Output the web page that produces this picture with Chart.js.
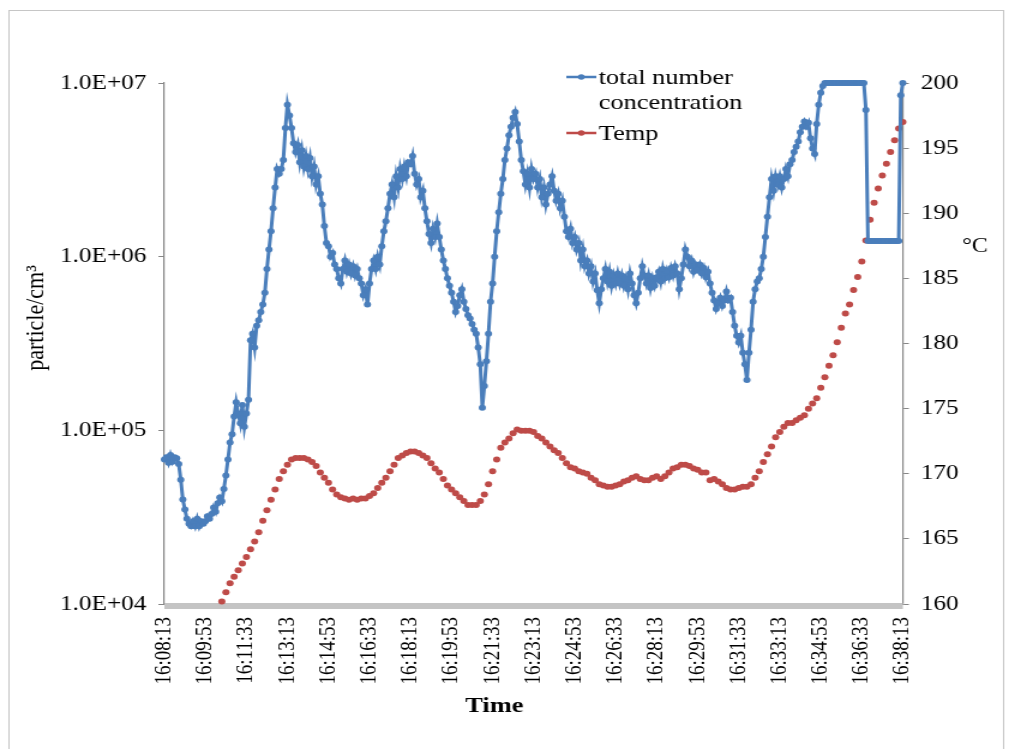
<!DOCTYPE html>
<html>
<head>
<meta charset="utf-8">
<script src="https://cdn.jsdelivr.net/npm/chart.js@4.4.1/dist/chart.umd.min.js"></script>
<style>
  html, body { margin: 0; padding: 0; background: #fff; }
  #chart { display: block; }
</style>
</head>
<body>
<!-- drawn on a narrower bitmap and widened by css, so text and dots come out wide -->
<canvas id="chart" width="841" height="749" style="width:1009px;height:749px"></canvas>
<script>
// x axis runs in seconds after 16:08:13
const TIME_LABELS = [
  '16:08:13', '16:09:53', '16:11:33', '16:13:13', '16:14:53', '16:16:33', '16:18:13',
  '16:19:53', '16:21:33', '16:23:13', '16:24:53', '16:26:33', '16:28:13', '16:29:53',
  '16:31:33', '16:33:13', '16:34:53', '16:36:33', '16:38:13'
];
const TIME_MAX = 1800;

// particle counter, one reading every 5 s from 16:08:13
const CONC_STEP = 5;
const concentration = [
  6.8e4, 7.0e4, 6.5e4, 7.2e4, 6.6e4, 7.0e4, 6.9e4, 6.4e4, 5.2e4, 4.0e4, 3.5e4, 3.1e4, 2.9e4, 2.8e4, 3.0e4, 2.8e4, 3.1e4, 2.8e4, 3.0e4, 2.9e4,
  3.0e4, 3.2e4, 3.1e4, 3.3e4, 3.6e4, 3.4e4, 3.8e4, 4.1e4, 3.9e4, 4.6e4, 5.5e4, 6.8e4, 8.5e4, 9.5e4, 1.2e5, 1.45e5, 1.25e5, 1.1e5, 1.4e5, 1.05e5,
  1.25e5, 1.5e5, 3.3e5, 3.6e5, 3.0e5, 4.0e5, 4.3e5, 4.8e5, 5.3e5, 6.2e5, 8.5e5, 1.1e6, 1.4e6, 1.9e6, 2.5e6, 3.2e6, 3.0e6, 3.2e6, 3.6e6, 5.5e6,
  7.5e6, 6.5e6, 5.5e6, 4.5e6, 4.0e6, 4.4e6, 3.5e6, 4.1e6, 3.3e6, 3.8e6, 3.2e6, 3.7e6, 2.9e6, 3.3e6, 2.6e6, 2.9e6, 2.3e6, 2.0e6, 1.5e6, 1.2e6,
  1.15e6, 1.0e6, 1.05e6, 9.0e5, 8.5e5, 7.5e5, 7.0e5, 8.5e5, 9.5e5, 8.2e5, 9.0e5, 8.0e5, 8.8e5, 7.8e5, 8.5e5, 7.5e5, 7.0e5, 6.0e5, 6.5e5, 5.3e5,
  7.0e5, 8.5e5, 9.5e5, 8.5e5, 1.0e6, 9.0e5, 1.15e6, 1.4e6, 1.6e6, 1.9e6, 2.3e6, 2.6e6, 2.2e6, 2.9e6, 2.5e6, 3.2e6, 2.8e6, 3.3e6, 2.9e6, 3.5e6,
  3.4e6, 3.8e6, 3.0e6, 2.6e6, 2.8e6, 2.2e6, 2.4e6, 1.9e6, 1.6e6, 1.35e6, 1.2e6, 1.45e6, 1.3e6, 1.55e6, 1.3e6, 1.1e6, 9.5e5, 8.5e5, 7.5e5, 6.8e5,
  6.2e5, 5.5e5, 4.8e5, 5.2e5, 6.0e5, 6.5e5, 5.5e5, 5.0e5, 4.6e5, 4.4e5, 4.1e5, 3.8e5, 3.6e5, 3.0e5, 2.4e5, 1.35e5, 1.8e5, 2.5e5, 3.6e5, 5.5e5,
  7.0e5, 1.0e6, 1.4e6, 1.8e6, 2.3e6, 2.8e6, 3.6e6, 4.2e6, 5.0e6, 5.6e6, 6.3e6, 6.8e6, 5.8e6, 4.6e6, 3.6e6, 3.1e6, 2.6e6, 3.0e6, 2.5e6, 3.2e6,
  2.8e6, 3.0e6, 2.5e6, 2.8e6, 2.2e6, 2.5e6, 2.0e6, 2.3e6, 2.6e6, 2.9e6, 2.4e6, 2.1e6, 2.3e6, 1.9e6, 2.1e6, 1.7e6, 1.4e6, 1.3e6, 1.45e6, 1.2e6,
  1.3e6, 1.1e6, 1.2e6, 9.5e5, 1.1e6, 8.8e5, 9.5e5, 8.0e5, 8.8e5, 7.2e5, 8.0e5, 6.4e5, 5.4e5, 6.5e5, 7.5e5, 8.5e5, 7.2e5, 8.2e5, 6.8e5, 7.8e5,
  7.0e5, 8.0e5, 7.0e5, 7.8e5, 6.8e5, 7.5e5, 6.5e5, 8.0e5, 7.0e5, 6.0e5, 5.4e5, 6.2e5, 7.5e5, 8.8e5, 7.8e5, 7.0e5, 7.8e5, 6.6e5, 7.5e5, 6.8e5,
  7.6e5, 8.2e5, 7.2e5, 8.5e5, 7.5e5, 8.3e5, 7.6e5, 8.6e5, 7.8e5, 8.8e5, 8.0e5, 6.5e5, 7.5e5, 9.0e5, 1.1e6, 1.0e6, 8.8e5, 9.5e5, 8.2e5, 9.0e5,
  8.4e5, 9.0e5, 8.0e5, 8.6e5, 7.6e5, 8.2e5, 7.0e5, 6.2e5, 5.6e5, 5.0e5, 5.4e5, 5.8e5, 5.2e5, 5.6e5, 6.3e5, 5.6e5, 5.8e5, 4.8e5, 4.0e5, 3.5e5,
  3.2e5, 3.5e5, 2.8e5, 2.4e5, 1.95e5, 2.8e5, 3.8e5, 5.5e5, 6.5e5, 7.2e5, 7.5e5, 8.5e5, 1.0e6, 1.3e6, 1.7e6, 2.2e6, 2.8e6, 2.4e6, 2.9e6, 2.6e6,
  2.9e6, 2.5e6, 2.8e6, 3.2e6, 2.9e6, 3.4e6, 3.6e6, 4.0e6, 4.3e6, 4.6e6, 5.2e6, 5.6e6, 6.0e6, 5.6e6, 5.9e6, 4.8e6, 4.2e6, 3.9e6, 5.8e6, 7.5e6,
  8.8e6, 9.6e6, 1e7, 1e7, 1e7, 1e7, 1e7, 1e7, 1e7, 1e7, 1e7, 1e7, 1e7, 1e7, 1e7, 1e7, 1e7, 1e7, 1e7, 1e7,
  1e7, 1e7, 7.0e6, 1.23e6, 1.23e6, 1.23e6, 1.23e6, 1.23e6, 1.23e6, 1.23e6, 1.23e6, 1.23e6, 1.23e6, 1.23e6, 1.23e6, 1.23e6, 1.23e6, 1.23e6, 1.23e6, 8.5e6,
  1e7
];

// thermocouple, one reading every 10 s starting 16:10:33
const TEMP_START = 140;
const TEMP_STEP = 10;
const temperature = [
  160.2, 160.9, 161.6, 162.1, 162.6, 163.1, 163.6, 164.2, 164.8, 165.5,
  166.4, 167.2, 168.0, 168.8, 169.6, 170.2, 170.7, 171.1, 171.2, 171.2,
  171.2, 171.1, 170.9, 170.6, 170.1, 169.7, 169.3, 168.8, 168.4, 168.2,
  168.1, 168.0, 168.1, 168.0, 168.1, 168.1, 168.3, 168.5, 168.9, 169.3,
  169.7, 170.2, 170.7, 171.2, 171.4, 171.6, 171.7, 171.7, 171.6, 171.4,
  171.2, 170.8, 170.4, 170.1, 169.6, 169.1, 168.8, 168.5, 168.2, 167.9,
  167.6, 167.6, 167.6, 167.9, 168.4, 169.2, 170.2, 171.1, 172.0, 172.4,
  172.7, 173.1, 173.4, 173.3, 173.3, 173.3, 173.2, 172.9, 172.7, 172.4,
  172.1, 171.8, 171.6, 171.2, 170.8, 170.5, 170.4, 170.2, 170.1, 170.0,
  169.7, 169.5, 169.2, 169.1, 169.0, 169.0, 169.1, 169.2, 169.4, 169.5,
  169.7, 169.8, 169.6, 169.5, 169.5, 169.7, 169.8, 169.6, 169.8, 170.1,
  170.4, 170.5, 170.7, 170.7, 170.6, 170.4, 170.3, 170.1, 170.1, 169.5,
  169.6, 169.4, 169.2, 168.9, 168.8, 168.8, 168.9, 169.0, 169.0, 169.2,
  169.7, 170.2, 170.9, 171.5, 172.1, 172.8, 173.2, 173.6, 173.9, 173.9,
  174.1, 174.3, 174.5, 175.0, 175.4, 175.8, 176.6, 177.4, 178.3, 179.1,
  180.1, 181.2, 182.3, 183.0, 184.1, 185.1, 186.3, 187.9, 189.5, 190.8,
  191.9, 192.9, 193.8, 194.7, 195.6, 196.5, 197.0
];

const CONC_TICKS = [1e4, 1e5, 1e6, 1e7];
const CONC_TICK_LABELS = ['1.0E+04', '1.0E+05', '1.0E+06', '1.0E+07'];

const BLUE = '#4a7ebb';
const RED = '#be4b48';
const AXIS_GREY = '#868686';
const SERIF = '"Liberation Serif", "Times New Roman", serif';

Chart.defaults.font.family = SERIF;
Chart.defaults.color = '#000';

const concPoints = concentration.map((v, i) => ({ x: i * CONC_STEP, y: v }));
const tempPoints = temperature.map((v, i) => ({ x: TEMP_START + i * TEMP_STEP, y: v }));

// legend sits inside the plot, the first entry wraps onto two lines
const legendItems = [
  { lines: ['total number', 'concentration'], color: BLUE, y: 77 },
  { lines: ['Temp'], color: RED, y: 133 }
];

// -------------------------
// frame, x bar, titles, legend
// -------------------------
const chartDecor = {
  id: 'chartDecor',
  beforeDraw(chart) {
    const ctx = chart.ctx;
    ctx.save();
    ctx.fillStyle = '#fff';
    ctx.fillRect(0, 0, chart.width, chart.height);
    ctx.strokeStyle = '#c6c6c6';
    ctx.lineWidth = 1;
    ctx.strokeRect(7.5, 10.5, 829, 760);
    ctx.restore();
  },
  beforeDatasetsDraw(chart) {
    const { ctx, chartArea } = chart;
    ctx.save();
    ctx.fillStyle = '#c4c4c4';
    ctx.fillRect(chartArea.left, chartArea.bottom - 1, chartArea.right - chartArea.left, 6);
    ctx.restore();
  },
  afterDraw(chart) {
    const ctx = chart.ctx;
    ctx.save();
    ctx.fillStyle = '#000';
    ctx.textBaseline = 'middle';

    ctx.save();
    ctx.translate(30, 318);
    ctx.rotate(-Math.PI / 2);
    ctx.textAlign = 'center';
    ctx.font = '22px ' + SERIF;
    ctx.fillText('particle/cm³', 0, 0);
    ctx.restore();

    ctx.textAlign = 'left';
    ctx.font = '20px ' + SERIF;
    ctx.fillText('°C', 802, 247);

    ctx.textAlign = 'center';
    ctx.font = 'bold 22px ' + SERIF;
    ctx.fillText('Time', 412, 706);

    ctx.textAlign = 'left';
    ctx.font = '22px ' + SERIF;
    legendItems.forEach(item => {
      ctx.strokeStyle = item.color;
      ctx.lineWidth = 2.5;
      ctx.beginPath();
      ctx.moveTo(472, item.y);
      ctx.lineTo(497, item.y);
      ctx.stroke();
      ctx.fillStyle = item.color;
      ctx.beginPath();
      ctx.arc(484.5, item.y, 2.8, 0, Math.PI * 2);
      ctx.fill();
      ctx.fillStyle = '#000';
      item.lines.forEach((line, k) => {
        ctx.fillText(line, 499, item.y + 1 + k * 25);
      });
    });
    ctx.restore();
  }
};

// -------------------------
// CHART
// -------------------------
new Chart(document.getElementById('chart'), {
  type: 'line',
  data: {
    datasets: [
      {
        label: 'total number concentration',
        data: concPoints,
        yAxisID: 'yConc',
        borderColor: BLUE,
        backgroundColor: BLUE,
        borderWidth: 3,
        pointRadius: 3,
        pointBorderWidth: 0,
        pointBackgroundColor: BLUE,
        tension: 0,
        clip: false
      },
      {
        label: 'Temp',
        data: tempPoints,
        yAxisID: 'yTemp',
        showLine: false,
        borderColor: RED,
        backgroundColor: RED,
        pointRadius: 3,
        pointBorderWidth: 0,
        pointBackgroundColor: RED,
        clip: false
      }
    ]
  },
  options: {
    responsive: false,
    devicePixelRatio: 1,
    animation: false,
    events: [],
    layout: { padding: { top: 83, left: 0, right: 0, bottom: 0 } },
    plugins: {
      legend: { display: false },
      tooltip: { enabled: false }
    },
    scales: {
      x: {
        type: 'linear',
        min: 0,
        max: TIME_MAX,
        grid: { display: false, drawTicks: false },
        border: { display: false },
        afterFit(scale) { scale.height = 145; },
        ticks: {
          stepSize: 100,
          autoSkip: false,
          maxRotation: 90,
          minRotation: 90,
          padding: 13,
          font: { size: 19 },
          callback: (value, index) => TIME_LABELS[index]
        }
      },
      yConc: {
        type: 'logarithmic',
        position: 'left',
        min: 1e4,
        max: 1e7,
        afterFit(scale) { scale.width = 137; },
        afterBuildTicks(scale) { scale.ticks = CONC_TICKS.map(v => ({ value: v })); },
        grid: { drawOnChartArea: false, drawTicks: true, tickLength: 5, color: AXIS_GREY },
        border: { display: true, color: AXIS_GREY, width: 1.2 },
        ticks: {
          padding: 10,
          font: { size: 21 },
          callback: (value, index) => CONC_TICK_LABELS[index]
        }
      },
      yTemp: {
        type: 'linear',
        position: 'right',
        min: 160,
        max: 200,
        afterFit(scale) { scale.width = 88.5; },
        grid: { drawOnChartArea: false, drawTicks: true, tickLength: 5, color: AXIS_GREY },
        border: { display: true, color: AXIS_GREY, width: 1.2 },
        ticks: {
          stepSize: 5,
          padding: 10,
          font: { size: 21 }
        }
      }
    }
  },
  plugins: [chartDecor]
});
</script>
</body>
</html>
